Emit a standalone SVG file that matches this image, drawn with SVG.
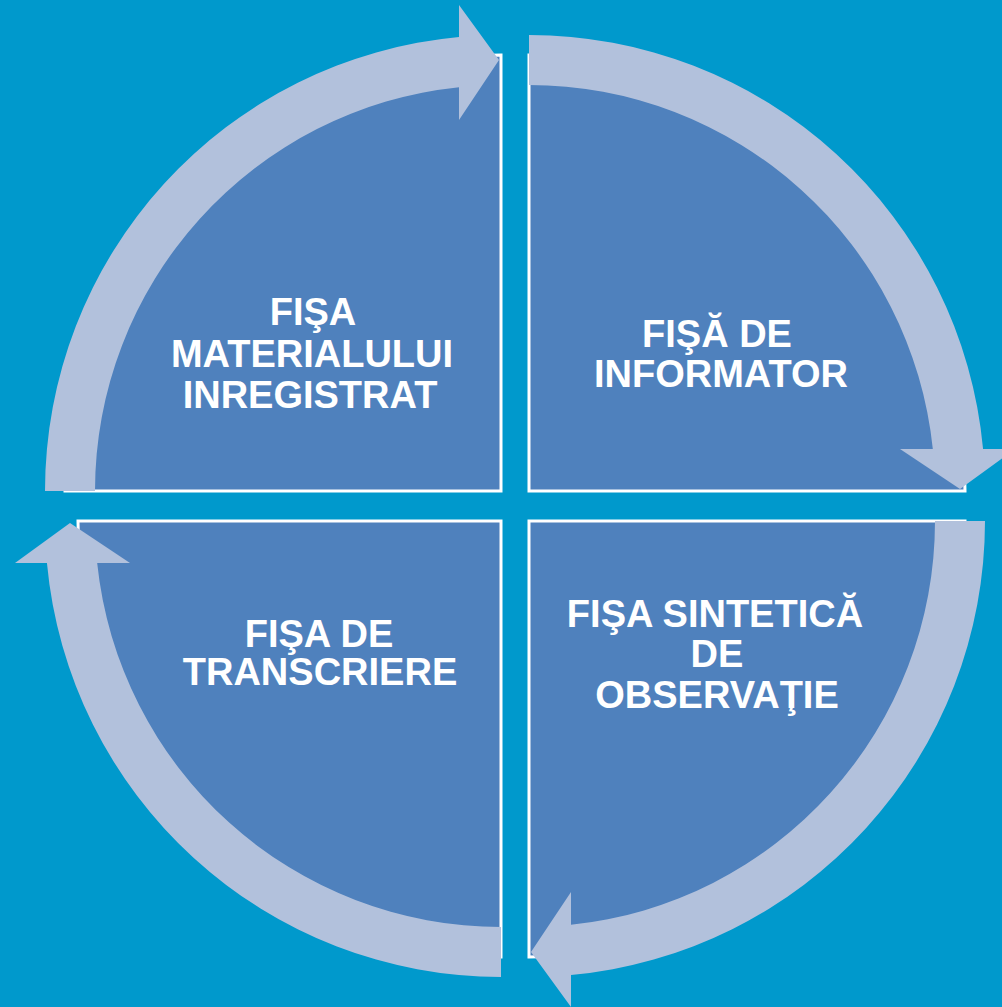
<svg xmlns="http://www.w3.org/2000/svg" xmlns:xlink="http://www.w3.org/1999/xlink" width="1002" height="1007" viewBox="0 0 1002 1007">
<style>
.sector{fill:#4F81BD;stroke:#FFFFFF;stroke-width:3;stroke-linejoin:miter}
.arrow{fill:#B2C1DC;stroke:none}
.label{fill:#FFFFFF;font-family:"Liberation Sans",Arial,sans-serif;font-weight:bold;font-size:38px;text-anchor:middle}
</style>
<defs>
<path id="arc-arrow" d="M -456 0 A 456 456 0 0 1 -42 -454.06 L -42 -486 L -2 -431 L -42 -371 L -42 -403.82 A 406 406 0 0 0 -406 0 Z"/>
</defs>
<rect x="0" y="0" width="1002" height="1007" fill="#0099CC"/>
<g id="node-material">
<path class="sector" d="M501,491 H65 A436,436 0 0 1 501,55 Z"/>
<text class="label" x="313" y="325">FIŞA</text>
<text class="label" x="312" y="367">MATERIALULUI</text>
<text class="label" x="310" y="408">INREGISTRAT</text>
</g>
<g id="node-informator">
<path class="sector" d="M529,491 V55 A436,436 0 0 1 965,491 Z"/>
<text class="label" x="717" y="347">FIŞĂ DE</text>
<text class="label" x="721" y="387">INFORMATOR</text>
</g>
<g id="node-sintetica">
<path class="sector" d="M529,521 H965 A436,436 0 0 1 529,957 Z"/>
<text class="label" x="715" y="627">FIŞA SINTETICĂ</text>
<text class="label" x="717" y="667">DE</text>
<text class="label" x="717" y="708">OBSERVAŢIE</text>
</g>
<g id="node-transcriere">
<path class="sector" d="M501,521 V957 A436,436 0 0 1 78,521 Z"/>
<text class="label" x="319" y="647">FIŞA DE</text>
<text class="label" x="320" y="685">TRANSCRIERE</text>
</g>
<g id="connectors">
<use class="arrow" xlink:href="#arc-arrow" href="#arc-arrow" transform="translate(501,491)"/>
<use class="arrow" xlink:href="#arc-arrow" href="#arc-arrow" transform="translate(529,491) rotate(90)"/>
<use class="arrow" xlink:href="#arc-arrow" href="#arc-arrow" transform="translate(529,521) rotate(180)"/>
<use class="arrow" xlink:href="#arc-arrow" href="#arc-arrow" transform="translate(501,521) rotate(270)"/>
</g>
</svg>
